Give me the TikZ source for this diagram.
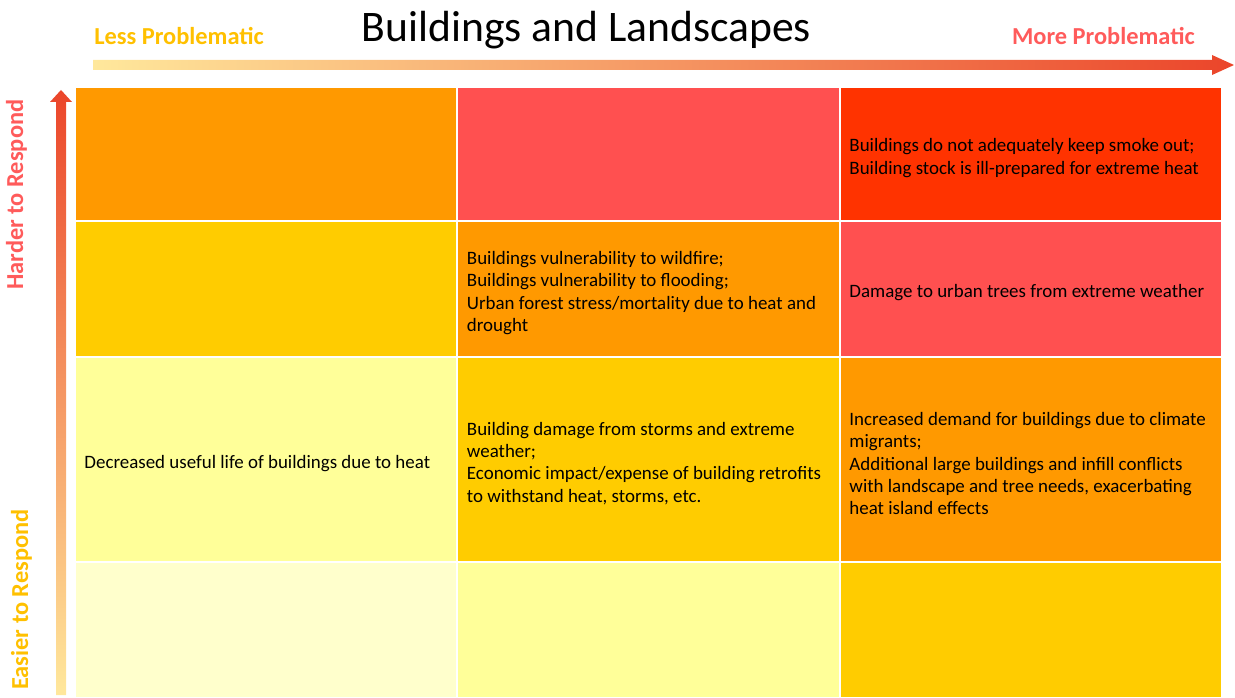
\documentclass[tikz,border=0pt]{standalone}
\usepackage{fontspec}
\setmainfont{Carlito}
\usepackage{tikz}
\usetikzlibrary{positioning}
\definecolor{cOrange}{HTML}{FF9900}
\definecolor{cSalmon}{HTML}{FF5050}
\definecolor{cRed}{HTML}{FF3300}
\definecolor{cGold}{HTML}{FFCC00}
\definecolor{cYellow}{HTML}{FFFF99}
\definecolor{cCream}{HTML}{FFFFCC}
\definecolor{lessCol}{HTML}{FFC000}
\definecolor{moreCol}{HTML}{FF5B5B}
\definecolor{arrowLo}{HTML}{FFE89C}
\definecolor{arrowMid}{HTML}{FDB55A}
\definecolor{arrowHi}{HTML}{EB452A}

\begin{document}
\begin{tikzpicture}[x=0.75pt,y=-0.75pt,
    cell/.style={draw=white,line width=1pt,inner sep=0pt,minimum width=286.7pt},
    rowA/.style={minimum height=100.5pt},
    rowB/.style={minimum height=102pt},
    rowC/.style={minimum height=153.75pt},
    txt/.style={inner sep=0pt,align=left,yshift=-3pt,font=\fontsize{14.2}{16.7}\selectfont},
    axis/.style={font=\bfseries\fontsize{18.3}{20}\selectfont,inner sep=0pt}]
  \useasboundingbox (0,0) rectangle (1235,698);

  \shade[left color=arrowLo,middle color=arrowMid,right color=arrowHi]
    (93,60) -- (1212,60) -- (1212,55) -- (1234,65) -- (1212,75) -- (1212,70) -- (93,70) -- cycle;
  \shade[bottom color=arrowLo,middle color=arrowMid,top color=arrowHi]
    (56,695) -- (56,102) -- (50,102) -- (61,90) -- (72,102) -- (66,102) -- (66,695) -- cycle;

  \node[font=\fontsize{32.7}{36}\selectfont,anchor=base] (title) at (586.5,42) {Buildings and Landscapes};
  \node[axis,text=lessCol,anchor=base west] (less) at (94,45) {Less Problematic};
  \node[axis,text=moreCol,anchor=base east] (more) at (1195,45) {More Problematic};
  \node[axis,text=moreCol,rotate=90,anchor=base west] (harder) at (23,290) {Harder to Respond};
  \node[axis,text=lessCol,rotate=90,anchor=base west] (easier) at (28,690) {Easier to Respond};

  \node[cell,rowA,fill=cOrange] (r1c1) at (266,154) {};
  \node[cell,rowA,fill=cSalmon] (r1c2) at (648.5,154) {};
  \node[cell,rowA,fill=cRed] (r1c3) at (1031,154) {};
  \node[cell,rowB,fill=cGold] (r2c1) at (266,289) {};
  \node[cell,rowB,fill=cOrange] (r2c2) at (648.5,289) {};
  \node[cell,rowB,fill=cSalmon] (r2c3) at (1031,289) {};
  \node[cell,rowC,fill=cYellow] (r3c1) at (266,459.5) {};
  \node[cell,rowC,fill=cGold] (r3c2) at (648.5,459.5) {};
  \node[cell,rowC,fill=cOrange] (r3c3) at (1031,459.5) {};
  \node[cell,rowB,fill=cCream] (r4c1) at (266,630) {};
  \node[cell,rowB,fill=cYellow] (r4c2) at (648.5,630) {};
  \node[cell,rowB,fill=cGold] (r4c3) at (1031,630) {};

  \node[txt,right=7.5pt of r1c3.west] (t13) {Buildings do not adequately keep smoke out;\\Building stock is ill-prepared for extreme heat};
  \node[txt,right=7.5pt of r2c2.west] (t22) {Buildings vulnerability to wildfire;\\Buildings vulnerability to flooding;\\Urban forest stress/mortality due to heat and\\drought};
  \node[txt,right=7.5pt of r2c3.west] (t23) {Damage to urban trees from extreme weather};
  \node[txt,right=7.5pt of r3c1.west] (t31) {Decreased useful life of buildings due to heat};
  \node[txt,right=7.5pt of r3c2.west] (t32) {Building damage from storms and extreme\\weather;\\Economic impact/expense of building retrofits\\to withstand heat, storms, etc.};
  \node[txt,right=7.5pt of r3c3.west] (t33) {Increased demand for buildings due to climate\\migrants;\\Additional large buildings and infill conflicts\\with landscape and tree needs, exacerbating\\heat island effects};
\end{tikzpicture}
\end{document}
